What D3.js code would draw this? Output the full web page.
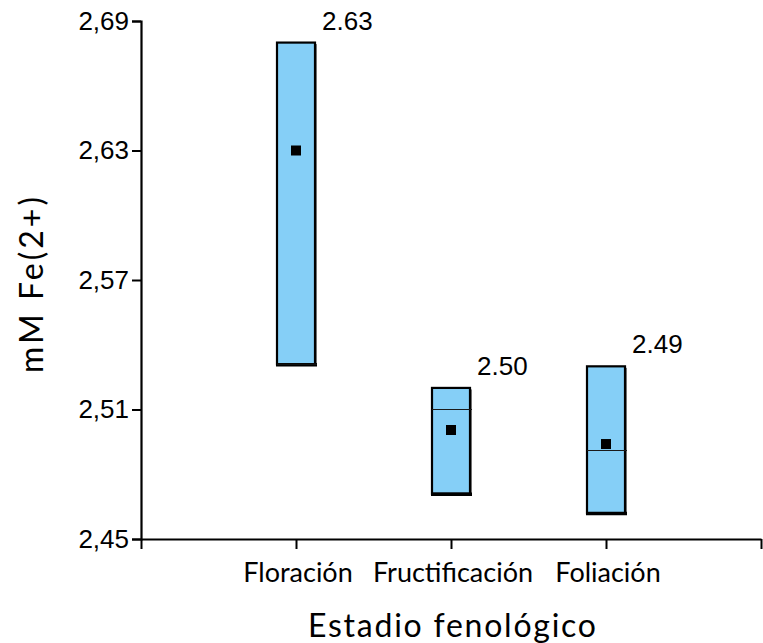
<!DOCTYPE html>
<html>
<head>
<meta charset="utf-8">
<script src="https://cdn.jsdelivr.net/npm/d3@7"></script>
<style>
  html, body { margin: 0; padding: 0; background: #fff; }
  svg { display: block; }
</style>
</head>
<body>
<svg id="chart" width="763" height="643"></svg>
<script>
// Iron reduction (mM Fe2+) by phenological stage
const categories = ["Floración", "Fructificación", "Foliación"];
const boxUpper   = [2.680, 2.520, 2.530];
const boxLower   = [2.531, 2.471, 2.462];
const medians    = [2.531, 2.510, 2.491];
const means      = [2.630, 2.5005, 2.494];
const yTicks     = [2.45, 2.51, 2.57, 2.63, 2.69];

const svg = d3.select("#chart");
const sans = "'Liberation Sans', Arial, sans-serif";
const soft = "Lato, 'Open Sans', sans-serif";

const y = d3.scaleLinear().domain([2.45, 2.69]).range([539, 21]);
const x = d3.scaleLinear().domain([0, categories.length + 1]).range([141, 761]);

const esLocale = d3.formatLocale({ decimal: ",", thousands: ".", grouping: [3], currency: ["", "€"] });
const fmtTick = esLocale.format(".2f");
const fmtVal = d3.format(".2f");

// Y axis
const yAxis = svg.append("g")
  .attr("transform", `translate(${x(0)},0)`)
  .call(d3.axisLeft(y).tickValues(yTicks).tickFormat(fmtTick).tickSize(9).tickPadding(3));
yAxis.select(".domain").attr("stroke", "#000").attr("stroke-width", 2.2);
yAxis.selectAll(".tick line").attr("stroke", "#000").attr("stroke-width", 2);
yAxis.selectAll(".tick text").attr("font-family", sans).attr("font-size", 26).attr("fill", "#000");

// X axis: ticks at every slot, labels only for the categories
const xAxis = svg.append("g")
  .attr("transform", `translate(0,${y(2.45)})`)
  .call(d3.axisBottom(x).tickValues(d3.range(0, categories.length + 2)).tickFormat("").tickSize(10).tickSizeOuter(0));
xAxis.select(".domain").attr("stroke", "#000").attr("stroke-width", 2.2);
xAxis.selectAll(".tick line").attr("stroke", "#000").attr("stroke-width", 2);

svg.append("g").selectAll("text").data(categories).join("text")
  .attr("x", (d, i) => x(i + 1) + 2)
  .attr("y", 582)
  .attr("text-anchor", "middle")
  .attr("font-family", soft)
  .attr("font-size", 27)
  .attr("fill", "#000")
  .text(d => d);

// Axis titles
svg.append("text")
  .attr("x", 308).attr("y", 637)
  .attr("font-family", soft).attr("font-size", 32)
  .attr("textLength", 288).attr("lengthAdjust", "spacing")
  .attr("fill", "#000")
  .text("Estadio fenológico");

svg.append("text")
  .attr("transform", "translate(43,373) rotate(-90)")
  .attr("font-family", soft).attr("font-size", 32)
  .attr("textLength", 176).attr("lengthAdjust", "spacing")
  .attr("fill", "#000")
  .text("mM Fe(2+)");

// Boxes
const boxW = 38;
const rows = categories.map((c, i) => ({
  c, i, hi: boxUpper[i], lo: boxLower[i], med: medians[i], mean: means[i]
}));

const g = svg.append("g");
const box = g.selectAll("g.box").data(rows).join("g").attr("class", "box");

// light shadow on right/bottom edges
box.append("rect")
  .attr("x", d => x(d.i + 1) - boxW / 2 + 1.5)
  .attr("y", d => y(d.hi) + 1.5)
  .attr("width", boxW)
  .attr("height", d => y(d.lo) - y(d.hi))
  .attr("fill", "#000");

box.append("rect")
  .attr("x", d => x(d.i + 1) - boxW / 2)
  .attr("y", d => y(d.hi))
  .attr("width", boxW)
  .attr("height", d => y(d.lo) - y(d.hi))
  .attr("fill", "#85CFF7")
  .attr("stroke", "#000")
  .attr("stroke-width", 2.2);

// lower edge cap
box.append("line")
  .attr("x1", d => x(d.i + 1) - boxW / 2 - 1)
  .attr("x2", d => x(d.i + 1) + boxW / 2 + 2)
  .attr("y1", d => y(d.lo) + 0.5)
  .attr("y2", d => y(d.lo) + 0.5)
  .attr("stroke", "#000")
  .attr("stroke-width", 3.5);

// median line
box.append("line")
  .attr("x1", d => x(d.i + 1) - boxW / 2)
  .attr("x2", d => x(d.i + 1) + boxW / 2 + 2)
  .attr("y1", d => y(d.med))
  .attr("y2", d => y(d.med))
  .attr("stroke", "#1a1a1a")
  .attr("stroke-width", 1);

// mean marker
box.append("rect")
  .attr("x", d => x(d.i + 1) - 5)
  .attr("y", d => y(d.mean) - 5)
  .attr("width", 10)
  .attr("height", 10)
  .attr("fill", "#000");

// value labels
box.append("text")
  .attr("x", d => x(d.i + 1) + boxW / 2 + 7)
  .attr("y", d => y(d.hi) - 13)
  .attr("font-family", sans)
  .attr("font-size", 26)
  .attr("fill", "#000")
  .text(d => fmtVal(d.mean));
</script>
</body>
</html>
